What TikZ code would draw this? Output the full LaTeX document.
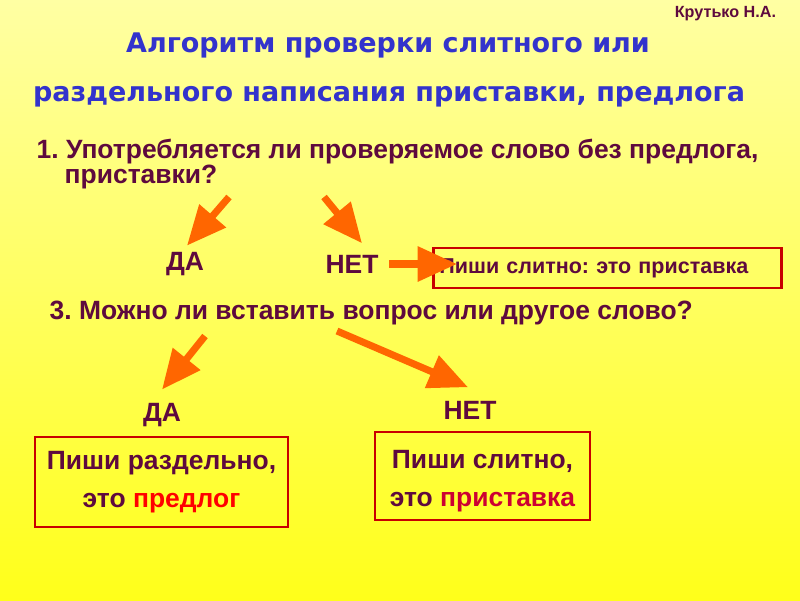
\documentclass[tikz,border=0pt]{standalone}
\usepackage{fontspec}
\setmainfont{Liberation Sans}
\newfontfamily\titlefont{DejaVu Sans}
\usepackage{tikz}
\usetikzlibrary{positioning,calc,arrows.meta}
\frenchspacing
\definecolor{bgtop}{HTML}{FFFFA3}
\definecolor{bgbot}{HTML}{FFFF1A}
\definecolor{qcol}{HTML}{5E0A3E}
\definecolor{titleblue}{HTML}{3333CC}
\definecolor{arroworange}{HTML}{FF6600}
\definecolor{boxred}{HTML}{C80000}
\definecolor{wordred}{HTML}{FF0000}
\definecolor{wordcrimson}{HTML}{CC0033}

\begin{document}
\begin{tikzpicture}[x=0.025cm, y=-0.025cm,
    titletxt/.style={text=titleblue, font=\titlefont\bfseries\fontsize{19.2}{22}\selectfont, inner sep=0pt},
    qtxt/.style={text=qcol, font=\bfseries\fontsize{18.8}{22}\selectfont, inner sep=1pt},
    answerbox/.style={draw=boxred, line width=2pt, text=qcol, align=center,
      font=\bfseries\fontsize{18.8}{27}\selectfont},
    fatarrow/.style={draw=arroworange, fill=arroworange, line width=5pt,
      -{Triangle[width=24pt,length=28pt]}}]
  % background
  \shade[top color=bgtop, bottom color=bgbot] (0,0) rectangle (800,600);
  \node[text=qcol, font=\bfseries\fontsize{11.5}{13}\selectfont, anchor=east] (author) at (781,14) {Крутько Н.А.};

  % title
  \node[titletxt] (title1) at (388,45) {Алгоритм проверки слитного или};
  \node[titletxt] (title2) at (389,97) {раздельного написания приставки, предлога};

  % question 1
  \node[qtxt, anchor=west] (q1) at (35,152) {1. Употребляется ли проверяемое слово без предлога,};
  \node[qtxt, anchor=west] (q1b) at (63,177) {приставки?};
  \node[qtxt] (da1) at (185,264) {ДА};
  \node[qtxt] (net1) at (352,264) {НЕТ};
  \node[answerbox, anchor=west, minimum height=1.0cm, text width=8.4cm, align=left,
    inner xsep=0.15cm, font=\bfseries\fontsize{15.3}{17}\selectfont] (box1) at (432,268)
    {Пиши слитно: это приставка};
  \coordinate (q1da) at (229,197);
  \coordinate (q1net) at (324,197);
  \draw[fatarrow] (q1da) -- ($(da1.north)+(2,-5)$);
  \draw[fatarrow] (q1net) -- ($(net1.north)+(10,-10)$);
  \draw[fatarrow] ($(net1.east)+(9,0)$) -- ($(net1.east -| box1.west)+(25,0)$);

  % question 3
  \node[qtxt, anchor=west] (q3) at (48,313) {3. Можно ли вставить вопрос или другое слово?};
  \node[qtxt] (da2) at (162,415) {ДА};
  \node[qtxt] (net2) at (470,410) {НЕТ};
  \node[answerbox, minimum width=6.325cm, minimum height=2.25cm] (box2) at (161.5,482)
    {Пиши раздельно,\\это \textcolor{wordred}{предлог}};
  \node[answerbox, minimum width=5.375cm, minimum height=2.2cm] (box3) at (482.5,476)
    {\rule{0pt}{20pt}Пиши слитно,\\это \textcolor{wordcrimson}{приставка}};
  \coordinate (q3da) at (205,336);
  \coordinate (q3net) at (337,331);
  \draw[fatarrow] (q3da) -- ($(da2.north)+(0,-12)$);
  \draw[fatarrow] (q3net) -- ($(net2.north)+(-2,-12)$);
\end{tikzpicture}
\end{document}
